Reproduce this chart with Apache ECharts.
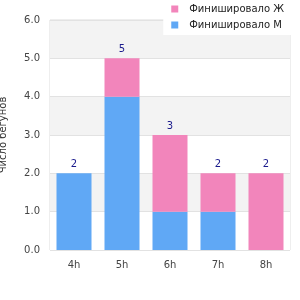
<!DOCTYPE html>
<html>
<head>
<meta charset="utf-8">
<script src="https://cdn.jsdelivr.net/npm/echarts@6/dist/echarts.min.js"></script>
<style>
    html, body { margin: 0; padding: 0; background: #fff; }
    #chart { width: 300px; height: 300px; }
</style>
</head>
<body>
<div id="chart"></div>
<script>
const categories = ['4h', '5h', '6h', '7h', '8h']
const finishedM = [2, 4, 1, 1, 0]
const finishedF = [0, 1, 2, 1, 2]
const totals = categories.map((_, i) => finishedM[i] + finishedF[i])

const chart = echarts.init(document.getElementById('chart'))

chart.setOption({
    animation: false,
    textStyle: { fontFamily: 'DejaVu Sans' },
    legend: {
        top: 0,
        right: 0,
        orient: 'vertical',
        backgroundColor: '#fff',
        padding: [4, 16, 5, 8],
        itemGap: 6,
        itemWidth: 7,
        itemHeight: 7,
        icon: 'rect',
        textStyle: { fontSize: 10, color: '#222', padding: [0, 0, 0, 6] },
        data: ['Финишировало Ж', 'Финишировало М']
    },
    grid: {
        left: 50, right: 10, top: 20, bottom: 50,
        outerBoundsMode: 'none',
        show: true, borderColor: '#ddd', borderWidth: 1, backgroundColor: 'transparent'
    },
    xAxis: {
        type: 'category',
        data: categories,
        axisLine: { show: false },
        axisTick: { show: false },
        axisLabel: { color: '#444', fontSize: 10, margin: 10 }
    },
    yAxis: {
        type: 'value',
        min: 0,
        max: 6,
        interval: 1,
        name: 'Число бегунов',
        nameLocation: 'middle',
        nameGap: 42,
        nameTextStyle: { color: '#333', fontSize: 10 },
        axisLine: { show: false },
        axisTick: { show: false },
        axisLabel: { color: '#444', fontSize: 10, formatter: v => v.toFixed(1), margin: 10 },
        splitLine: { lineStyle: { color: '#e2e2e2' } },
        splitArea: { show: true, areaStyle: { color: ['#fff', '#f3f3f3'] } }
    },
    series: [
        {
            name: 'Финишировало М',
            type: 'bar',
            stack: 'total',
            barWidth: 35,
            itemStyle: { color: '#60a8f5' },
            data: finishedM
        },
        {
            name: 'Финишировало Ж',
            type: 'bar',
            stack: 'total',
            barWidth: 35,
            itemStyle: { color: '#f285bb' },
            label: {
                show: true,
                position: 'top',
                color: '#1a1a8c',
                fontSize: 10,
                distance: 4,
                formatter: p => totals[p.dataIndex]
            },
            data: finishedF
        }
    ]
})
</script>
</body>
</html>
